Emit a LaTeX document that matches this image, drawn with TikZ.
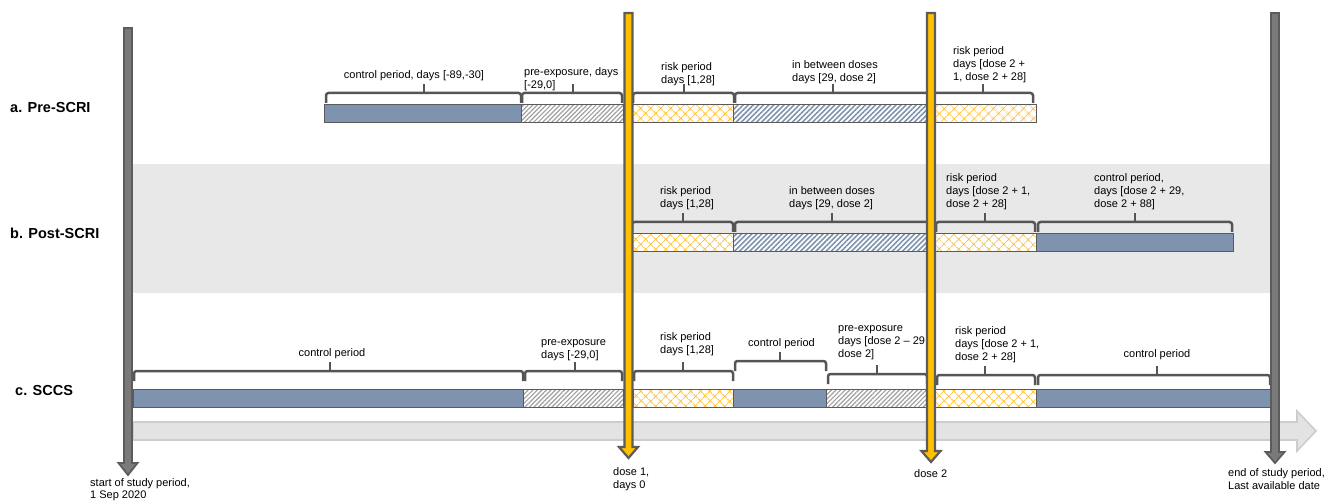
\documentclass[tikz,border=0pt]{standalone}
\usepackage{fontspec}
\setmainfont{Liberation Sans}
\usetikzlibrary{patterns.meta}
\definecolor{barblue}{HTML}{7F93AE}
\definecolor{bordergray}{HTML}{5A5A5A}
\definecolor{brkgray}{HTML}{555555}
\definecolor{hatchgray}{HTML}{A0A0A0}
\definecolor{riskorange}{HTML}{FFC238}
\definecolor{doseorange}{HTML}{FFC000}
\definecolor{bandgray}{HTML}{E8E8E8}
\definecolor{arrowgray}{HTML}{7A7A7A}
\definecolor{arrowedge}{HTML}{5C5C5C}
\definecolor{timefill}{HTML}{E3E3E3}
\definecolor{timeedge}{HTML}{CDCDCD}
\newcommand\brak[4]{% x1, x2, ytop, xtick
  \draw[brk] (#1,#3+10) -- (#1,#3) -- (#2,#3) -- (#2,#3+10);
  \draw[brk] (#4,#3+1) -- (#4,#3-9);}
\newcommand\vtarrow[6]{% x, top, head start, tip, fill, edge width
  \filldraw[draw=arrowedge, fill=#5, line width=#6, line join=miter]
    (#1-4,#2) -- (#1+4,#2) -- (#1+4,#3) -- (#1+9.5,#3) -- (#1,#4-1) -- (#1-9.5,#3) -- (#1-4,#3) -- cycle;}
\begin{document}
\begin{tikzpicture}[x=1pt,y=-1pt,
  brk/.style={draw=brkgray, line width=2.5pt, rounded corners=2.5pt},
  pbox/.style={draw=bordergray, line width=1pt},
  ctl/.style={pbox, fill=barblue},
  pre/.style={pbox, preaction={fill=white}, pattern={Lines[angle=45,distance=3.2pt,line width=1.2pt]}, pattern color=hatchgray},
  btw/.style={pbox, preaction={fill=white}, pattern={Lines[angle=45,distance=3.6pt,line width=1.6pt]}, pattern color=barblue},
  risk/.style={pbox, preaction={fill=white}, pattern={Hatch[angle=45,distance=7.4pt,line width=1pt]}, pattern color=riskorange},
  lbl/.style={font=\fontsize{11}{13.2}\selectfont, align=left, anchor=north west, inner sep=0pt},
  clbl/.style={font=\fontsize{11}{13.2}\selectfont, anchor=center, inner sep=0pt},
  rowlbl/.style={font=\fontsize{14.5}{16}\bfseries\selectfont, anchor=west, inner sep=0pt}]
\useasboundingbox (0,0) rectangle (1335,502);
% background band for row b
\fill[bandgray] (133,164) rectangle (1270,293);
% time axis arrow
\filldraw[fill=timefill, draw=timeedge, line width=1.6pt, line join=miter]
  (133,422) -- (1297,422) -- (1297,411) -- (1316,431) -- (1297,451) -- (1297,440) -- (133,440) -- cycle;
% row labels
\node[rowlbl] (la) at (10,108) {a. Pre-SCRI};
\node[rowlbl] (lb) at (10,233) {b. Post-SCRI};
\node[rowlbl] (lc) at (15,391) {c. SCCS};
% ---- row a
\draw[ctl]  (324,105) rectangle (521,123);
\draw[pre]  (521,105) rectangle (623,123);
\draw[risk] (632,105) rectangle (733,123);
\draw[btw]  (733,105) rectangle (927,123);
\draw[risk] (935,105) rectangle (1036,123);
\brak{326}{521}{93}{424}
\brak{522}{622}{93}{573}
\brak{633}{734}{93}{684}
\brak{735}{930}{93}{833}
\brak{932}{1033}{93}{983}
\node[clbl] (a1) at (414,76) {control period, days [-89,-30]};
\node[lbl] (a2) at (524,67) {pre-exposure, days\\{}[-29,0]};
\node[lbl] (a3) at (661,62) {risk period\\days [1,28]};
\node[lbl] (a4) at (792,60) {in between doses\\days [29, dose 2]};
\node[lbl] (a5) at (953,46) {risk period\\days [dose 2 +\\1, dose 2 + 28]};
% ---- row b
\draw[risk] (630,234) rectangle (733,252);
\draw[btw]  (733,234) rectangle (927,252);
\draw[risk] (935,234) rectangle (1036,252);
\draw[ctl]  (1036,234) rectangle (1233,252);
\brak{632}{733}{222}{683}
\brak{735}{929}{222}{832}
\brak{936}{1035}{222}{985}
\brak{1038}{1232}{222}{1135}
\node[lbl] (b1) at (660,186) {risk period\\days [1,28]};
\node[lbl] (b2) at (789,186) {in between doses\\days [29, dose 2]};
\node[lbl] (b3) at (946,173) {risk period\\days [dose 2 + 1,\\dose 2 + 28]};
\node[lbl] (b4) at (1094,173) {control period,\\days [dose 2 + 29,\\dose 2 + 88]};
% ---- row c
\draw[ctl]  (133,389) rectangle (523,407);
\draw[pre]  (523,389) rectangle (623,407);
\draw[risk] (633,389) rectangle (733,407);
\draw[ctl]  (733,389) rectangle (826,407);
\draw[pre]  (826,389) rectangle (927,407);
\draw[risk] (935,389) rectangle (1036,407);
\draw[ctl]  (1036,389) rectangle (1270,407);
\brak{134}{523}{371}{330}
\brak{525}{622}{371}{575}
\brak{634}{733}{371}{683}
\brak{735}{826}{361}{780}
\brak{828}{927}{374}{877}
\brak{937}{1035}{375}{985}
\brak{1038}{1270}{375}{1157}
\node[clbl] (c1) at (332,354) {control period};
\node[lbl] (c2) at (541,339) {pre-exposure\\days [-29,0]};
\node[lbl] (c3) at (660,332) {risk period\\days [1,28]};
\node[lbl] (c4) at (748,338) {control period};
\node[lbl] (c5) at (838,325) {pre-exposure\\days [dose 2 – 29,\\dose 2]};
\node[lbl] (c6) at (955,326) {risk period\\days [dose 2 + 1,\\dose 2 + 28]};
\node[clbl] (c7) at (1157,355) {control period};
% ---- vertical arrows
\vtarrow{128}{28}{463}{476}{arrowgray}{1.8pt}
\vtarrow{1275}{13}{452}{464}{arrowgray}{1.8pt}
\vtarrow{628.5}{13}{447}{459}{doseorange}{2.2pt}
\vtarrow{931}{13}{451}{463}{doseorange}{2.2pt}
% ---- bottom labels
\node[lbl, font=\fontsize{11}{12.4}\selectfont] (s) at (90,478) {start of study period,\\1 Sep 2020};
\node[lbl] (d1) at (613,467) {dose 1,\\days 0};
\node[lbl] (d2) at (914,469) {dose 2};
\node[lbl] (e) at (1228,468) {end of study period,\\Last available date};
\end{tikzpicture}
\end{document}
